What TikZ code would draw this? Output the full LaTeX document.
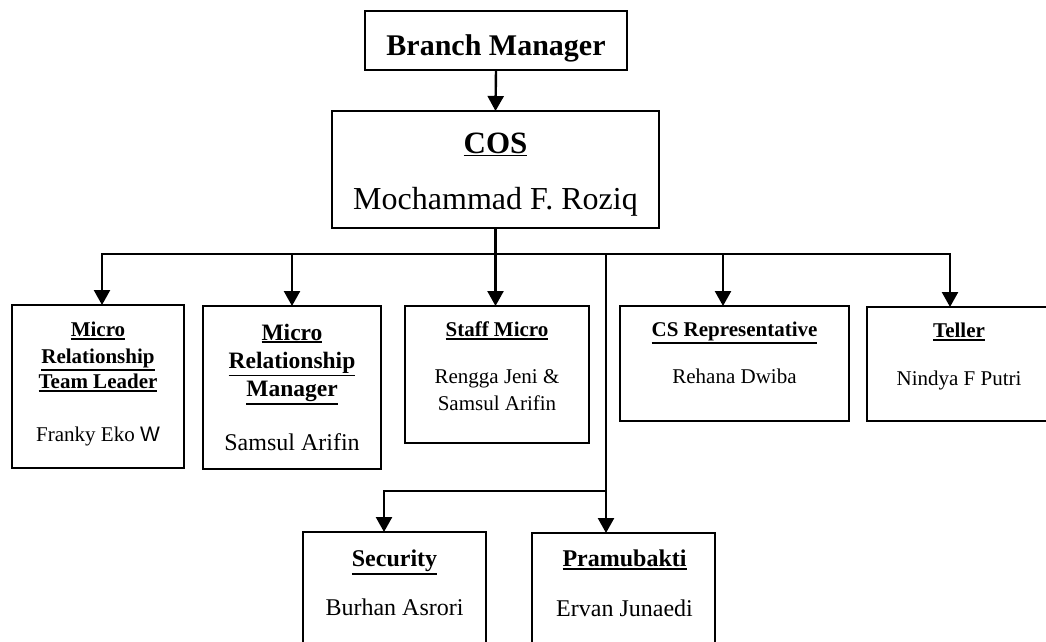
\documentclass[tikz,border=0pt]{standalone}
\usepackage{fontspec}
\setmainfont{Liberation Serif}
\newfontfamily\arialfont{Liberation Sans}
\usetikzlibrary{arrows.meta}
\newcommand\setfs[1]{\fontsize{#1}{#1}\selectfont}
\newcommand\ulx[1]{\leavevmode\vtop{\hbox{#1}\kern1.2pt\hrule height 1.8pt}}
\begin{document}
\begin{tikzpicture}[x=1pt,y=-1pt,
  box/.style={draw,line width=1.8pt,inner sep=0pt,outer sep=0pt},
  conn/.style={line width=2.4pt},
  arr/.style={conn,-{Triangle[length=15pt,width=16pt]}},
  txt/.style={inner sep=0pt,anchor=base}]
\useasboundingbox (0,0) rectangle (1046,641);
\clip (0,0) rectangle (1046,641);

% boxes
\node[box,minimum width=262pt,minimum height=59pt] (bm) at (496,40.5) {};
\node[box,minimum width=327pt,minimum height=117pt] (cos) at (495.5,169.5) {};
\node[box,minimum width=172pt,minimum height=163pt] (mrtl) at (98,386.5) {};
\node[box,minimum width=178pt,minimum height=163pt] (mrm) at (292,387.5) {};
\node[box,minimum width=184pt,minimum height=137pt] (sm) at (497,374.5) {};
\node[box,minimum width=229pt,minimum height=115pt] (cs) at (734.5,363.5) {};
\node[box,minimum width=184pt,minimum height=114pt] (tel) at (959,364) {};
\node[box,minimum width=183pt,minimum height=130pt] (sec) at (394.5,597) {};
\node[box,minimum width=183pt,minimum height=130pt] (pram) at (623.5,598) {};

% texts
\node[txt,font=\setfs{30}\bfseries] (bmT) at (496,55) {Branch Manager};
\node[txt,font=\setfs{31}\bfseries] (cosT) at (495.5,153) {\ulx{COS}};
\node[txt,font=\setfs{32}] (cosN) at (495.5,209) {Mochammad F. Roziq};

\node[txt,font=\setfs{21}\bfseries] (mrtlT1) at (98,336.7) {\ulx{Micro}};
\node[txt,font=\setfs{21}\bfseries] (mrtlT2) at (98,363.3) {\ulx{Relationship}};
\node[txt,font=\setfs{21}\bfseries] (mrtlT3) at (98,388.3) {\ulx{Team Leader}};
\node[txt,font=\setfs{21}] (mrtlN) at (98,441.7) {Franky Eko {\arialfont W}};

\node[txt,font=\setfs{23.5}\bfseries] (mrmT1) at (292,340) {\ulx{Micro}};
\node[txt,font=\setfs{23.5}\bfseries] (mrmT2) at (292,368.3) {\ulx{Relationship}};
\node[txt,font=\setfs{23.5}\bfseries] (mrmT3) at (292,396.7) {\ulx{Manager}};
\node[txt,font=\setfs{24}] (mrmN) at (292,450) {Samsul Arifin};

\node[txt,font=\setfs{21}\bfseries] (smT) at (497,336.7) {\ulx{Staff Micro}};
\node[txt,font=\setfs{21}] (smN1) at (497,383.3) {Rengga Jeni \&};
\node[txt,font=\setfs{21}] (smN2) at (497,410) {Samsul Arifin};

\node[txt,font=\setfs{21}\bfseries] (csT) at (734.5,336.7) {\ulx{CS Representative}};
\node[txt,font=\setfs{21}] (csN) at (734.5,383.3) {Rehana Dwiba};

\node[txt,font=\setfs{21}\bfseries] (telT) at (959,337.3) {\ulx{Teller}};
\node[txt,font=\setfs{21}] (telN) at (959,385.7) {Nindya F Putri};

\node[txt,font=\setfs{24}\bfseries] (secT) at (394.5,566.7) {\ulx{Security}};
\node[txt,font=\setfs{24}] (secN) at (394.5,615) {Burhan Asrori};

\node[txt,font=\setfs{24}\bfseries] (pramT) at (624.5,566.7) {\ulx{Pramubakti}};
\node[txt,font=\setfs{24}] (pramN) at (624.5,616.7) {Ervan Junaedi};

% connector points
\coordinate (busL) at (102,254);
\coordinate (busR) at (950,254);
\coordinate (csDrop) at (723,254);
\coordinate (vTop) at (606,254);
\coordinate (vMid) at (606,491);
\coordinate (secDrop) at (384,491);

% connectors
\draw[arr] (bm.south) -- (cos.north);
\draw[arr] (cos.south) -- (cos.south |- sm.north);
\draw[arr] (cos.south |- busL) -| (busL |- mrtl.north);
\draw[arr] (cos.south |- busL) -| (busR |- tel.north);
\draw[arr] (mrm.north |- busL) -- (mrm.north);
\draw[arr] (csDrop) -- (csDrop |- cs.north);
\draw[conn] (vTop) -- (vMid);
\draw[arr] (vMid) -- (vMid |- pram.north);
\draw[arr] (vMid) -| (secDrop |- sec.north);
\end{tikzpicture}
\end{document}
